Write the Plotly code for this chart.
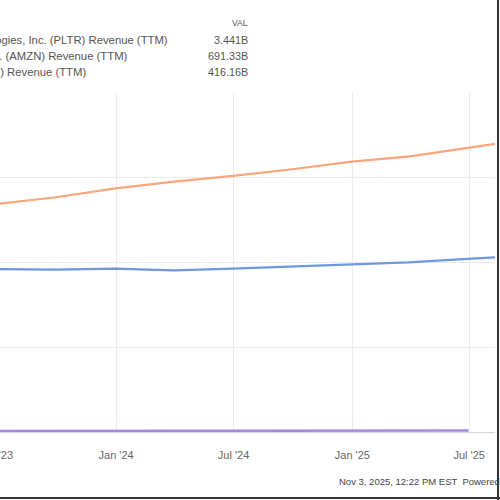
import plotly.graph_objects as go

# ---- data (TTM revenue, billions USD) ----
amzn_dates = ["2023-03-31", "2023-06-30", "2023-09-30", "2023-12-31", "2024-03-31",
              "2024-06-30", "2024-09-30", "2024-12-31", "2025-03-31", "2025-06-30", "2025-09-30"]
amzn_vals = [524.90, 538.05, 554.03, 574.79, 590.74, 604.33, 620.13, 637.96, 650.31, 670.04, 691.33]

aapl_dates = ["2023-04-01", "2023-07-01", "2023-09-30", "2023-12-30", "2024-03-30",
              "2024-06-29", "2024-09-28", "2024-12-28", "2025-03-29", "2025-06-28", "2025-09-27"]
aapl_vals = [385.10, 383.93, 383.29, 385.71, 381.62, 385.60, 391.04, 395.76, 400.37, 408.63, 416.16]

pltr_dates = ["2023-03-31", "2023-06-30", "2023-09-30", "2023-12-31", "2024-03-31",
              "2024-06-30", "2024-09-30", "2024-12-31", "2025-03-31", "2025-06-30"]
pltr_vals = [2.06, 2.12, 2.16, 2.23, 2.33, 2.44, 2.59, 2.87, 3.12, 3.44]

tick_vals = ["2023-07-01", "2024-01-01", "2024-07-01", "2025-01-01", "2025-07-01"]
tick_text = ["Jul '23", "Jan '24", "Jul '24", "Jan '25", "Jul '25"]

legend_names = ["Palantir Technologies, Inc. (PLTR) Revenue (TTM)",
                "Amazon.com, Inc. (AMZN) Revenue (TTM)",
                "Apple, Inc. (AAPL) Revenue (TTM)"]
legend_vals = ["3.441B", "691.33B", "416.16B"]

# ---- layout geometry (pixels) ----
SHIFT = 4            # page is shifted 4px left (chart is cropped on the left)
W, H = 500 + SHIFT, 500
L, R, T, B = 0, 5, 93, 68
PW = W - L - R
PH = H - T - B


def px(x):
    return (x + SHIFT - L) / PW


def py(y):
    return (H - B - y) / PH


fig = go.Figure()
fig.add_trace(go.Scatter(x=pltr_dates, y=pltr_vals, mode="lines",
                         line=dict(color="#a089e0", width=2.5), name="PLTR"))
fig.add_trace(go.Scatter(x=amzn_dates, y=amzn_vals, mode="lines",
                         line=dict(color="#fba57c", width=2.2), name="AMZN"))
fig.add_trace(go.Scatter(x=aapl_dates, y=aapl_vals, mode="lines",
                         line=dict(color="#6f98dc", width=2.2), name="AAPL"))

font = "Liberation Sans, Arial, sans-serif"
ann = []
ann.append(dict(text="VAL", x=px(250), y=py(23), xref="paper", yref="paper",
                xanchor="right", yanchor="middle", showarrow=False,
                font=dict(family=font, size=8.5, color="#555")))
row_y = [40, 56, 72]
row_end = [170, 130, 88]
for name, val, yy, xe in zip(legend_names, legend_vals, row_y, row_end):
    ann.append(dict(text=name, x=px(xe), y=py(yy), xref="paper", yref="paper",
                    xanchor="right", yanchor="middle", showarrow=False,
                    font=dict(family=font, size=11.3, color="#555")))
    ann.append(dict(text=val, x=px(250), y=py(yy), xref="paper", yref="paper",
                    xanchor="right", yanchor="middle", showarrow=False,
                    font=dict(family=font, size=10.8, color="#555")))
ann.append(dict(text="Nov 3, 2025, 12:22 PM EST  Powered by YCharts", x=px(337), y=py(481),
                xref="paper", yref="paper", xanchor="left", yanchor="middle",
                showarrow=False, font=dict(family=font, size=9.5, color="#444")))

shapes = [
    dict(type="line", xref="paper", yref="paper", x0=px(498), x1=px(498), y0=py(0), y1=py(500),
         line=dict(color="#333", width=2)),
    dict(type="line", xref="paper", yref="paper", x0=px(0), x1=px(500), y0=py(498), y1=py(498),
         line=dict(color="#333", width=2)),
]

fig.update_layout(
    width=W, height=H, autosize=False,
    margin=dict(l=L, r=R, t=T, b=B, pad=0, autoexpand=False),
    paper_bgcolor="white", plot_bgcolor="white",
    showlegend=False,
    annotations=ann, shapes=shapes,
    xaxis=dict(type="date", range=["2023-06-29", "2025-08-10"],
               tickvals=tick_vals, ticktext=tick_text, automargin=False,
               showgrid=True, gridcolor="#ececec", gridwidth=1,
               ticks="outside", ticklen=13, tickcolor="rgba(0,0,0,0)",
               ticklabeloverflow="allow",
               showline=True, linecolor="#d6d6d6", linewidth=1,
               tickfont=dict(family=font, size=11, color="#666"),
               zeroline=False),
    yaxis=dict(range=[0, 800], tickvals=[0, 200, 400, 600, 800], automargin=False,
               showticklabels=False, showgrid=True, gridcolor="#ececec",
               gridwidth=1, zeroline=False, showline=False),
)

fig.write_html("out.html", config={"displayModeBar": False},
               post_script="document.body.style.margin='0px 0px 0px -%dpx';"
                           "document.body.style.overflow='hidden';" % SHIFT)
